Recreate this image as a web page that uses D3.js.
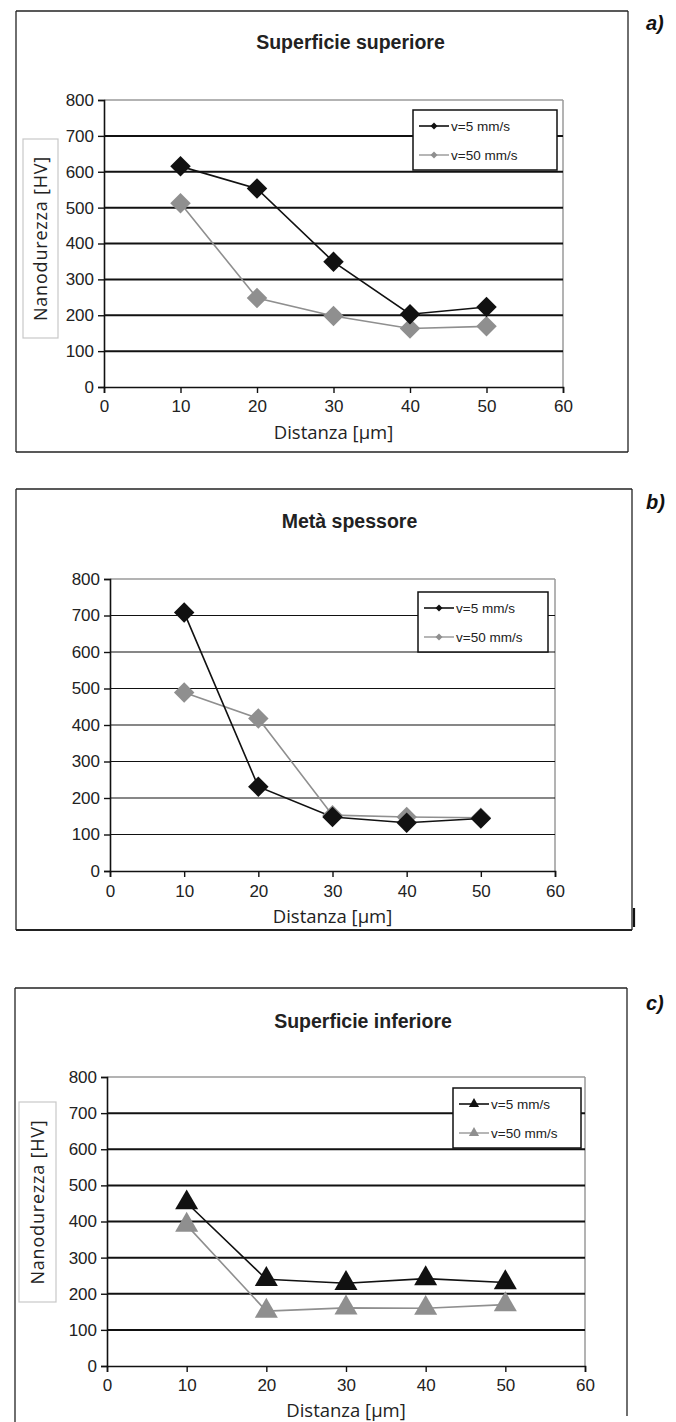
<!DOCTYPE html>
<html><head><meta charset="utf-8">
<script src="https://cdn.jsdelivr.net/npm/d3@7"></script>
<style>
html,body{margin:0;padding:0;background:#fff;}
svg{display:block;}
</style></head>
<body>
<svg id="chart" width="676" height="1422"></svg>
<script>
// ---------- DATA ----------
const xValues = [10, 20, 30, 40, 50];
const xTicks = [0, 10, 20, 30, 40, 50, 60];
const yTicks = [0, 100, 200, 300, 400, 500, 600, 700, 800];
const seriesNames = ["v=5 mm/s", "v=50 mm/s"];
const panelTitles = ["Superficie superiore", "Metà spessore", "Superficie inferiore"];
const panelLetters = ["a)", "b)", "c)"];
const xAxisTitle = "Distanza [µm]";
const yAxisTitle = "Nanodurezza [HV]";
// Panel a) Superficie superiore
const superioreV5 = [615, 553, 349, 203, 223];
const superioreV50 = [512, 248, 198, 163, 169];
// Panel b) Metà spessore
const metaV5 = [708, 231, 148, 132, 144];
const metaV50 = [489, 418, 153, 148, 146];
// Panel c) Superficie inferiore
const inferioreV5 = [452, 240, 229, 242, 231];
const inferioreV50 = [390, 152, 161, 160, 170];

// ---------- LAYOUT ----------
const svg = d3.select("#chart");
const FONT_NUM = "'Liberation Sans', Arial, sans-serif";
const FONT_LBL = "'Open Sans', 'Noto Sans', sans-serif";
const darkCol = "#111", greyCol = "#8f8f8f";

const panels = [
  { title: panelTitles[0], letter: panelLetters[0], v5: superioreV5, v50: superioreV50, marker: "diamond",
    frame: {x: 16, y: 11, w: 612, h: 441, bottom: true}, plot: {x0: 104, x1: 563, y0: 100, y1: 387},
    legend: {x: 413, y: 110, w: 144, h: 60}, ylab: {x: 23, y: 139, w: 35, h: 199},
    titleY: 49, tickY: 412, xlabY: 439, letterY: 30, gridW: 2, frameCol: "#222" },
  { title: panelTitles[1], letter: panelLetters[1], v5: metaV5, v50: metaV50, marker: "diamond",
    frame: {x: 16, y: 489, w: 616, h: 441, bottom: true, thickBottom: true}, plot: {x0: 110, x1: 555, y0: 579, y1: 871},
    legend: {x: 418, y: 592, w: 130, h: 60}, ylab: null,
    titleY: 528, tickY: 897, xlabY: 923, letterY: 509, gridW: 1.2, frameCol: "#222" },
  { title: panelTitles[2], letter: panelLetters[2], v5: inferioreV5, v50: inferioreV50, marker: "triangle",
    frame: {x: 15, y: 988, w: 612, h: 434, bottom: false}, plot: {x0: 107, x1: 585, y0: 1077, y1: 1366},
    legend: {x: 453, y: 1088, w: 128, h: 60}, ylab: {x: 19, y: 1102, w: 37, h: 200},
    titleY: 1028, tickY: 1391, xlabY: 1417, letterY: 1010, gridW: 2, frameCol: "#222" }
];

function markerPath(type, size) {
  return d3.symbol().type(type === "diamond" ? d3.symbolSquare : d3.symbolTriangle).size(size)();
}

panels.forEach(p => {
  const g = svg.append("g");
  const f = p.frame;
  // frame
  g.append("line").attr("x1", f.x).attr("x2", f.x + f.w).attr("y1", f.y).attr("y2", f.y)
    .attr("stroke", p.frameCol).attr("stroke-width", 1.3);
  g.append("line").attr("x1", f.x).attr("x2", f.x).attr("y1", f.y).attr("y2", f.y + f.h)
    .attr("stroke", p.frameCol).attr("stroke-width", 1.3);
  g.append("line").attr("x1", f.x + f.w).attr("x2", f.x + f.w).attr("y1", f.y).attr("y2", f.y + f.h - (f.bottom ? 0 : 6))
    .attr("stroke", p.frameCol).attr("stroke-width", 1.3);
  if (f.bottom) {
    g.append("line").attr("x1", f.x).attr("x2", f.x + f.w).attr("y1", f.y + f.h).attr("y2", f.y + f.h)
      .attr("stroke", p.frameCol).attr("stroke-width", f.thickBottom ? 2.2 : 1.3);
  }
  if (f.thickBottom) {
    g.append("line").attr("x1", f.x + f.w + 2).attr("x2", f.x + f.w + 2).attr("y1", f.y + f.h - 22).attr("y2", f.y + f.h - 3)
      .attr("stroke", "#111").attr("stroke-width", 2.2);
  }

  // letter
  g.append("text").attr("x", 646).attr("y", p.letterY).text(p.letter)
    .attr("font-family", FONT_NUM).attr("font-weight", "bold").attr("font-style", "italic")
    .attr("font-size", 20).attr("fill", "#111");

  // title
  g.append("text").attr("x", (p.plot.x0 + p.plot.x1) / 2 + 17).attr("y", p.titleY).text(p.title)
    .attr("text-anchor", "middle").attr("font-family", "'Liberation Sans Narrow', 'Liberation Sans', Arial, sans-serif")
    .attr("font-weight", "bold").attr("font-size", 19.5).attr("fill", "#222");

  const x = d3.scaleLinear().domain([0, 60]).range([p.plot.x0, p.plot.x1]);
  const y = d3.scaleLinear().domain([0, 800]).range([p.plot.y1, p.plot.y0]);

  // plot border (top, right) grey
  g.append("line").attr("x1", x(0)).attr("x2", x(60)).attr("y1", y(800)).attr("y2", y(800))
    .attr("stroke", "#9a9a9a").attr("stroke-width", 1.5);
  g.append("line").attr("x1", x(60)).attr("x2", x(60)).attr("y1", y(800)).attr("y2", y(0))
    .attr("stroke", "#9a9a9a").attr("stroke-width", 1.5);

  // gridlines
  g.append("g").selectAll("line").data(yTicks.filter(t => t > 0 && t < 800)).join("line")
    .attr("x1", x(0)).attr("x2", x(60)).attr("y1", d => y(d)).attr("y2", d => y(d))
    .attr("stroke", "#111").attr("stroke-width", p.gridW);

  // axes
  const yAxis = g.append("g").attr("transform", `translate(${x(0)},0)`)
    .call(d3.axisLeft(y).tickValues(yTicks).tickSize(6).tickPadding(4).tickFormat(d3.format("d")));
  const xAxis = g.append("g").attr("transform", `translate(0,${y(0)})`)
    .call(d3.axisBottom(x).tickValues(xTicks).tickSize(6).tickPadding(5).tickFormat(d3.format("d")));
  [yAxis, xAxis].forEach(a => {
    a.select(".domain").attr("stroke", "#111").attr("stroke-width", 1.6);
    a.selectAll(".tick line").attr("stroke", "#111").attr("stroke-width", 1.4);
    a.selectAll(".tick text").attr("font-family", "'Liberation Sans Narrow', 'Liberation Sans', Arial, sans-serif")
      .attr("font-size", 17).attr("fill", "#222");
  });
  xAxis.selectAll(".tick text").attr("y", null).attr("dy", null)
    .attr("transform", `translate(0,${p.tickY - y(0)})`);

  // axis titles
  g.append("text").attr("x", (x(0) + x(60)) / 2).attr("y", p.xlabY).text(xAxisTitle)
    .attr("text-anchor", "middle").attr("font-family", FONT_LBL).attr("font-size", 18.5).attr("fill", "#222");
  if (p.ylab) {
    const b = p.ylab;
    g.append("rect").attr("x", b.x).attr("y", b.y).attr("width", b.w).attr("height", b.h)
      .attr("fill", "#fff").attr("stroke", "#c8c8c8").attr("stroke-width", 1.2);
    g.append("text").attr("transform", `translate(${b.x + b.w / 2 + 6},${b.y + b.h / 2}) rotate(-90)`)
      .text(yAxisTitle).attr("text-anchor", "middle").attr("font-family", FONT_LBL)
      .attr("font-size", 18).attr("letter-spacing", 0.8).attr("fill", "#222");
  }

  // series
  const line = d3.line().x((d, i) => x(xValues[i])).y(d => y(d));
  const series = [
    {vals: p.v5, col: darkCol, lw: 1.6, name: seriesNames[0]},
    {vals: p.v50, col: greyCol, lw: 1.6, name: seriesNames[1]}
  ];
  const diamondSize = 210, triSize = 230;
  series.slice().reverse().forEach(s => {
    g.append("path").datum(s.vals).attr("d", line).attr("fill", "none")
      .attr("stroke", s.col).attr("stroke-width", s.lw);
  });
  series.slice().reverse().forEach(s => {
    g.append("g").selectAll("path").data(s.vals).join("path")
      .attr("d", markerPath(p.marker, p.marker === "diamond" ? diamondSize : triSize))
      .attr("transform", (d, i) => `translate(${x(xValues[i])},${y(d)})` + (p.marker === "diamond" ? " rotate(45)" : ""))
      .attr("fill", s.col);
  });

  // legend
  const L = p.legend;
  g.append("rect").attr("x", L.x).attr("y", L.y).attr("width", L.w).attr("height", L.h)
    .attr("fill", "#fff").attr("stroke", "#111").attr("stroke-width", 1.5);
  series.forEach((s, i) => {
    const ly = L.y + 16 + i * 29;
    g.append("line").attr("x1", L.x + 6).attr("x2", L.x + 36).attr("y1", ly).attr("y2", ly)
      .attr("stroke", s.col).attr("stroke-width", i === 0 ? 1.6 : 1.3);
    g.append("path").attr("d", markerPath(p.marker, p.marker === "diamond" ? 24 : 45))
      .attr("transform", `translate(${L.x + 21},${ly})` + (p.marker === "diamond" ? " rotate(45)" : ""))
      .attr("fill", s.col);
    g.append("text").attr("x", L.x + 38).attr("y", ly + 5).text(s.name)
      .attr("font-family", FONT_NUM).attr("font-size", 13.5).attr("fill", "#222");
  });
});
</script>
</body></html>
